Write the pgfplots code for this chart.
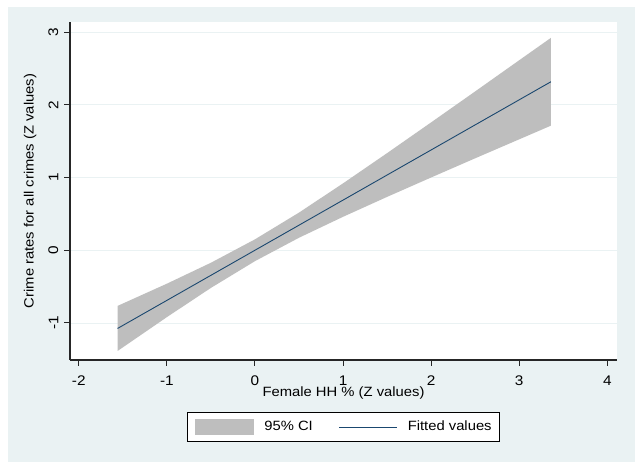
\documentclass[border=0pt]{standalone}
\usepackage{fontspec}
\setmainfont{Liberation Sans}[FakeStretch=1.1]
\usepackage{pgfplots}
\pgfplotsset{compat=1.18}
\definecolor{stbg}{HTML}{EAF2F3}
\definecolor{stgrid}{HTML}{EAF2F3}
\definecolor{stnavy}{HTML}{1A476F}
\definecolor{stband}{HTML}{BEBEBE}
\begin{document}
\fontsize{13.5pt}{15pt}\selectfont
\begin{tikzpicture}
\path[fill=white] (0,0) rectangle (640bp,469bp);
\path[fill=stbg] (8bp,7bp) rectangle (635bp,462bp);
\begin{axis}[
  at={(70bp,109bp)}, anchor=south west,
  scale only axis, width=547bp, height=338bp,
  xmin=-2.1, xmax=4.11, ymin=-1.51, ymax=3.14,
  axis background/.style={fill=white},
  axis lines=left, axis line style={-, line width=1.1pt, black!85},
  tick align=outside, major tick length=6bp,
  tick style={line width=1pt, black!85},
  xtick={-2,-1,0,1,2,3,4}, xticklabels={-2,-1,0,1,2,3,4},
  ytick={-1,0,1,2,3}, yticklabels={-1,0,1,2,3},
  ymajorgrids, grid style={stgrid, line width=0.8pt},
  yticklabel style={rotate=90, anchor=south, inner sep=5.5bp},
  xticklabel style={inner sep=2bp, yshift=-8bp},
  ticklabel style={font=\fontsize{14pt}{16pt}\selectfont},
  label style={font=\fontsize{13.5pt}{15pt}\selectfont},
  xlabel={Female HH \% (Z values)},
  ylabel={Crime rates for all crimes (Z values)},
  xlabel style={at={(axis description cs:0.5,-0.098)}, anchor=center},
  ylabel style={at={(axis description cs:-0.073,0.5)}, anchor=center},
  legend columns=2,
  legend style={at={(axis description cs:0.5,-0.154)}, anchor=north,
    draw=black, line width=0.8pt, fill=white,
    font=\fontsize{13.5pt}{15pt}\selectfont,
    nodes={inner sep=0bp},
    inner xsep=8bp, inner ysep=6.5bp,
    /tikz/every odd column/.append style={column sep=10bp},
    /tikz/every even column/.append style={column sep=26bp}},
]
\addplot[fill=stband, draw=none,
  legend image code/.code={\fill[stband,draw=none] (0bp,-8bp) rectangle (59bp,8bp);}]
  coordinates {
  (-1.56,-0.766) (-1,-0.46) (-0.5,-0.172) (0,0.15) (0.5,0.518) (1,0.92)
  (1.5,1.336) (2,1.759) (2.5,2.185) (3,2.614) (3.36,2.922)
  (3.36,1.714) (3,1.526) (2.5,1.265) (2,1.001) (1.5,0.734) (1,0.46)
  (0.5,0.172) (0,-0.15) (-0.5,-0.518) (-1,-0.92) (-1.56,-1.386)
  } -- cycle;
\addlegendentry{95\% CI}
\addplot[stnavy, line width=0.9pt, no marks,
  legend image code/.code={\draw[stnavy, line width=0.9pt] (0bp,0bp) -- (58bp,0bp);}]
  coordinates {(-1.56,-1.076) (0,0) (3.36,2.318)};
\addlegendentry{Fitted values}
\end{axis}
\end{tikzpicture}
\end{document}
